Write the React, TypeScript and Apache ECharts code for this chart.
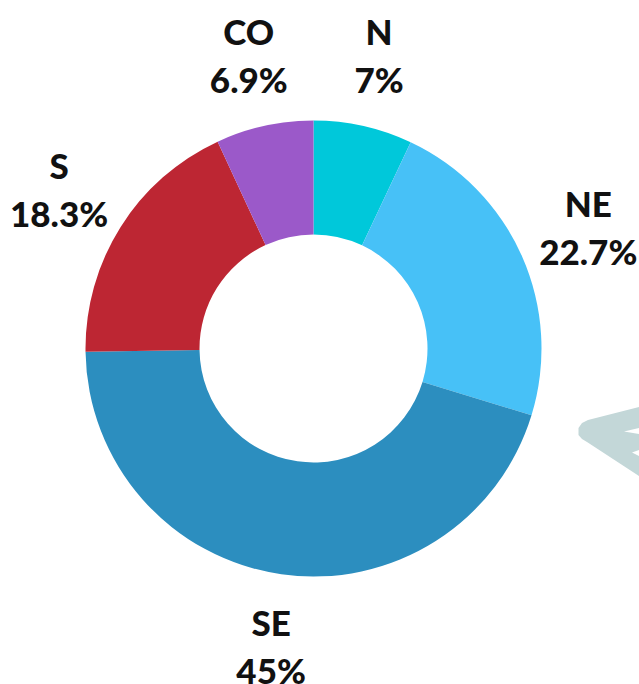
import React, { useEffect, useRef } from "react";
import * as echarts from "echarts";

const regions = ["N", "NE", "SE", "S", "CO"];
const shares = [7, 22.7, 45, 18.3, 6.9];
const colors = ["#00C8DA", "#47C1F7", "#2C8EBF", "#BD2633", "#9B59C9"];

export default function App() {
  const ref = useRef<HTMLDivElement>(null);
  useEffect(() => {
    if (!ref.current) return;
    const chart = echarts.init(ref.current, null, { renderer: "svg" });
    const data = regions.map((name, i) => ({
      name,
      value: shares[i],
      itemStyle: { color: colors[i] },
    }));
    chart.setOption({
      animation: false,
      backgroundColor: "#ffffff",
      series: [
        {
          type: "pie",
          center: [313.5, 348.5],
          radius: [114, 228],
          startAngle: 90,
          clockwise: true,
          silent: true,
          label: { show: false },
          labelLine: { show: false },
          data,
        },
        {
          type: "pie",
          center: [313.5, 348.5],
          radius: [0, 595],
          startAngle: 90,
          clockwise: true,
          silent: true,
          z: 5,
          itemStyle: { color: "rgba(0,0,0,0)", borderWidth: 0 },
          label: {
            show: true,
            position: "inside",
            rotate: 0,
            formatter: (p: any) => `${p.name}\n${p.value}%`,
            fontFamily: "Lato",
            fontWeight: 900,
            fontSize: 35,
            lineHeight: 48,
            color: "#111111",
            align: "center",
            verticalAlign: "middle",
          },
          labelLine: { show: false },
          data: regions.map((name, i) => ({
            name,
            value: shares[i],
            itemStyle: { color: "rgba(0,0,0,0)" },
          })),
        },
      ],
      graphic: [
        {
          type: "polygon",
          z: 0,
          shape: {
            points: [
              [639, 407],
              [588, 420],
              [582, 423],
              [578.5, 428],
              [578.5, 435],
              [582, 439],
              [587, 442],
              [639, 476],
            ],
          },
          style: { fill: "#C3D7D8" },
        },
        {
          type: "polygon",
          z: 1,
          shape: { points: [[624, 431.5], [639, 428], [639, 434]] },
          style: { fill: "#ffffff" },
        },
        {
          type: "polygon",
          z: 1,
          shape: { points: [[632, 452.5], [639, 450], [639, 456]] },
          style: { fill: "#ffffff" },
        },
      ],
    });
    return () => chart.dispose();
  }, []);
  return (
    <div
      ref={ref}
      style={{ position: "fixed", left: 0, top: 0, width: 639, height: 684 }}
    />
  );
}
